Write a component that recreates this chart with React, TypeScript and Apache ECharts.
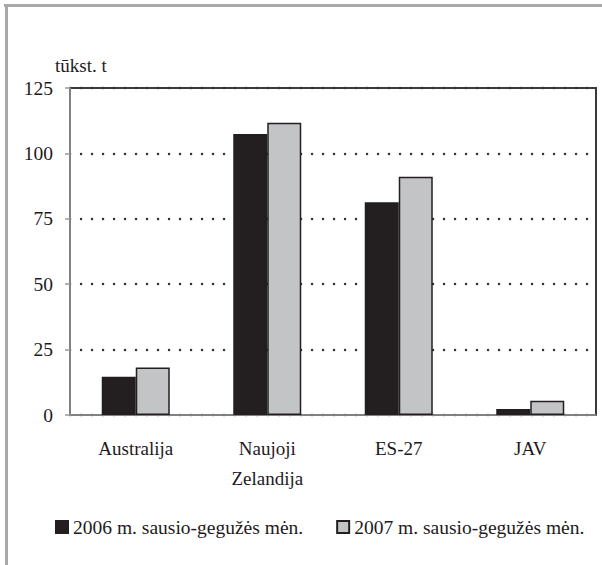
import React, { useEffect, useRef } from "react";
import * as echarts from "echarts";

const categories = ["Australija", "Naujoji\nZelandija", "ES-27", "JAV"];
const series2006 = [14.6, 107.4, 81.3, 2.3];
const series2007 = [18.2, 111.7, 91.1, 5.4];
const seriesNames = ["2006 m. sausio-gegužės mėn.", "2007 m. sausio-gegužės mėn."];
const yUnit = "tūkst. t";

const FONT = "'Liberation Serif', 'Times New Roman', serif";
const TEXT = "#1e1a1b";

export default function App() {
  const ref = useRef<HTMLDivElement>(null);
  useEffect(() => {
    if (!ref.current) return;
    const chart = echarts.init(ref.current, undefined, { renderer: "svg" });
    chart.setOption({
      animation: false,
      backgroundColor: "#ffffff",
      textStyle: { fontFamily: FONT, color: TEXT },
      grid: {
        left: 70,
        right: 6,
        top: 88,
        bottom: 150,
        show: true,
        borderColor: "#3a3a3a",
        borderWidth: 2,
        backgroundColor: "transparent",
      },
      graphic: [
        {
          type: "line",
          shape: { x1: 4, y1: 5.5, x2: 602, y2: 5.5 },
          style: { stroke: "#a9a9a9", lineWidth: 3 },
        },
        {
          type: "line",
          shape: { x1: 6.5, y1: 4, x2: 6.5, y2: 565 },
          style: { stroke: "#a9a9a9", lineWidth: 3 },
        },
        {
          type: "text",
          left: 55,
          top: 56,
          style: { text: yUnit, font: `19px ${FONT}`, fill: TEXT },
        },
      ],
      legend: {
        left: 55,
        top: 517,
        padding: 0,
        icon: "rect",
        itemWidth: 12,
        itemHeight: 12,
        itemGap: 33,
        textStyle: { fontFamily: FONT, fontSize: 19.5, color: TEXT },
        data: seriesNames,
      },
      xAxis: {
        type: "category",
        data: categories,
        axisLine: { show: true, lineStyle: { color: "#9a9a9a", width: 1.5 } },
        axisTick: { show: false },
        axisLabel: {
          fontFamily: FONT,
          fontSize: 19,
          color: TEXT,
          margin: 18,
          lineHeight: 30,
          interval: 0,
        },
      },
      yAxis: {
        type: "value",
        min: 0,
        max: 125,
        interval: 25,
        axisLine: { show: true, lineStyle: { color: "#9a9a9a", width: 1.5 } },
        axisTick: { show: true, inside: false, length: 5, lineStyle: { color: "#9a9a9a", width: 1.5 } },
        axisLabel: { fontFamily: FONT, fontSize: 19.5, color: TEXT, margin: 17 },
        splitLine: {
          show: true,
          lineStyle: { color: "#333", width: 2.4, type: [0.1, 10.9], cap: "round" },
        },
      },
      series: [
        {
          name: seriesNames[0],
          type: "bar",
          data: series2006,
          barWidth: 34,
          barGap: "0%",
          itemStyle: { color: "#231f20", borderColor: "#231f20", borderWidth: 1.5 },
          z: 3,
        },
        {
          name: seriesNames[1],
          type: "bar",
          data: series2007,
          barWidth: 34,
          barGap: "0%",
          itemStyle: { color: "#c3c4c6", borderColor: "#231f20", borderWidth: 1.5 },
          z: 3,
        },
      ],
    });
    return () => chart.dispose();
  }, []);
  return (
    <div
      ref={ref}
      style={{ position: "fixed", left: 0, top: 0, width: 602, height: 565, background: "#fff" }}
    />
  );
}
